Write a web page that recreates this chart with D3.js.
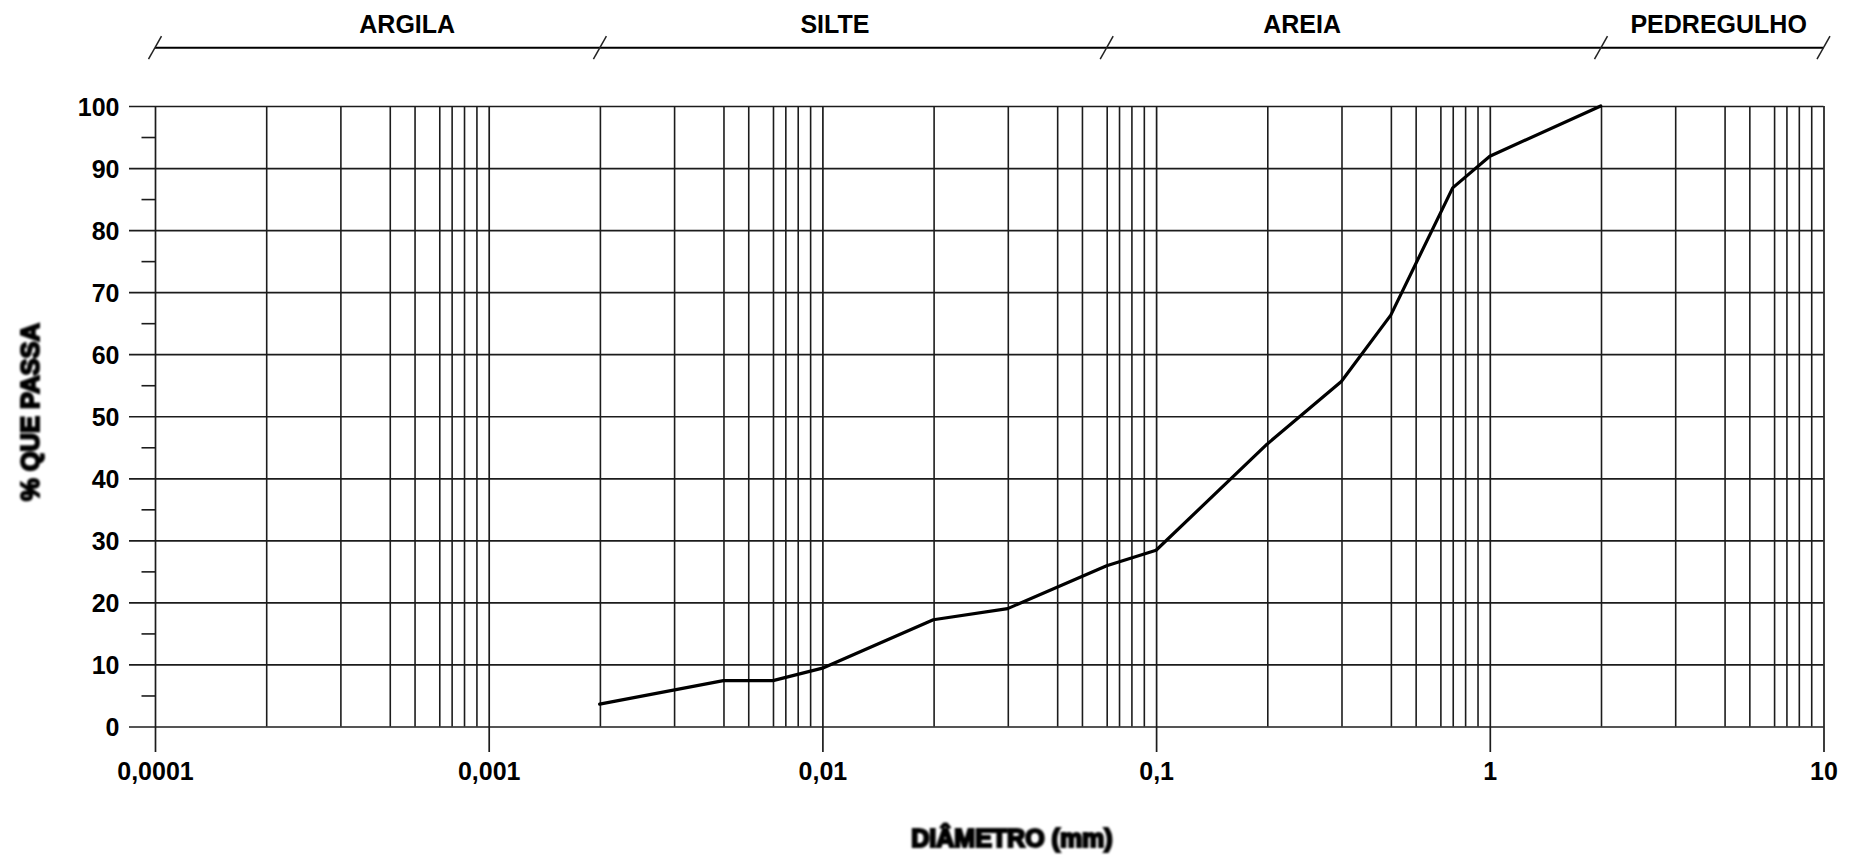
<!DOCTYPE html>
<html>
<head>
<meta charset="utf-8">
<script src="https://cdn.jsdelivr.net/npm/d3@7"></script>
<style>
  html, body { margin: 0; padding: 0; background: #fff; }
  svg { display: block; }
  text { font-family: "Liberation Sans", Arial, sans-serif; font-weight: bold; fill: #000; }
</style>
</head>
<body>
<svg id="chart" width="1859" height="858"></svg>
<script>
// Granulometric curve: diameter (mm) vs. percent passing
const diameters     = [0.00215, 0.00505, 0.00711, 0.01, 0.0215, 0.0359, 0.0711, 0.1, 0.215, 0.359, 0.505, 0.774, 1.0, 2.15];
const percentPassing = [3.6, 7.4, 7.4, 9.4, 17.2, 19.0, 25.9, 28.4, 45.5, 55.6, 66.3, 86.8, 91.9, 100];

// Axis ticks
const decadeTicks  = [0.0001, 0.001, 0.01, 0.1, 1, 10];
const decadeLabels = ["0,0001", "0,001", "0,01", "0,1", "1", "10"];
const gridMultipliers = [2.154, 3.594, 5.053, 5.995, 7.111, 7.743, 8.434, 9.188];
const percentTicks      = [0, 10, 20, 30, 40, 50, 60, 70, 80, 90, 100];
const percentMinorTicks = [5, 15, 25, 35, 45, 55, 65, 75, 85, 95];

// Soil fraction bands along the top
const bandNames      = ["ARGILA", "SILTE", "AREIA", "PEDREGULHO"];
const bandBoundaries = [0.0001, 0.002154, 0.07111, 2.154, 10];
const bandLabelAt    = [0.00057, 0.0109, 0.274, 4.85];

(function () {
  const svg = d3.select("#chart");
  const plotLeft = 155, plotRight = 1823.5, plotTop = 106, plotBottom = 726.5;
  const FONT = 25;

  const x = d3.scaleLog().domain([0.0001, 10]).range([plotLeft, plotRight]);
  const y = d3.scaleLinear().domain([0, 100]).range([plotBottom, plotTop]);

  // blur used for the heavy axis titles
  const defs = svg.append("defs");
  defs.append("filter").attr("id", "soft")
    .attr("x", "-5%").attr("y", "-20%").attr("width", "110%").attr("height", "140%")
    .append("feGaussianBlur").attr("stdDeviation", 0.9);

  const gridColor = "#1c1c1c";
  const fontStyle = g => g.selectAll("text")
    .style("font-family", "'Liberation Sans', Arial, sans-serif")
    .style("font-weight", "bold").attr("fill", "#000").attr("font-size", FONT);

  // minor vertical grid lines
  const minorValues = [];
  decadeTicks.slice(0, -1).forEach(d => gridMultipliers.forEach(m => minorValues.push(d * m)));

  svg.append("g")
    .attr("transform", `translate(0,${plotBottom})`)
    .call(d3.axisBottom(x).tickValues(minorValues).tickSize(-(plotBottom - plotTop)).tickFormat(""))
    .call(g => g.select(".domain").remove())
    .call(g => g.selectAll("line").attr("stroke", gridColor).attr("stroke-width", 1.6));

  // horizontal grid lines with major ticks and labels
  svg.append("g")
    .attr("transform", `translate(129,0)`)
    .call(d3.axisLeft(y).tickValues(percentTicks).tickSize(-(plotRight - 129)).tickPadding(9.5)
          .tickFormat(d => String(d)))
    .call(g => g.select(".domain").remove())
    .call(g => g.selectAll("line").attr("stroke", gridColor).attr("stroke-width", 1.7))
    .call(fontStyle)
    .call(g => g.selectAll("text").attr("dy", "0.36em"));

  // minor y ticks
  svg.append("g")
    .attr("transform", `translate(${plotLeft},0)`)
    .call(d3.axisLeft(y).tickValues(percentMinorTicks).tickSize(13.5).tickFormat(""))
    .call(g => g.select(".domain").remove())
    .call(g => g.selectAll("line").attr("stroke", gridColor).attr("stroke-width", 1.6));

  // major vertical lines (decades) extending below the axis, with labels
  svg.append("g")
    .attr("transform", `translate(0,752)`)
    .call(d3.axisBottom(x).tickValues(decadeTicks).tickSize(-(752 - plotTop)).tickPadding(28)
          .tickFormat((d, i) => decadeLabels[i]))
    .call(g => g.select(".domain").remove())
    .call(g => g.selectAll("line").attr("stroke", gridColor).attr("stroke-width", 1.7))
    .call(fontStyle)
    .call(g => g.selectAll("text").attr("dy", 0));

  // the curve
  const pts = diameters.map((d, i) => [d, percentPassing[i]]);
  svg.append("path")
    .datum(pts)
    .attr("fill", "none")
    .attr("stroke", "#000")
    .attr("stroke-width", 3.2)
    .attr("stroke-linejoin", "round")
    .attr("stroke-linecap", "round")
    .attr("d", d3.line().x(p => x(p[0])).y(p => y(p[1])));

  // top band bracket
  const bandY = 47.7;
  const band = svg.append("g");
  band.append("line")
    .attr("x1", x(bandBoundaries[0])).attr("x2", x(bandBoundaries[bandBoundaries.length - 1]))
    .attr("y1", bandY).attr("y2", bandY)
    .attr("stroke", "#000").attr("stroke-width", 2);
  band.selectAll("line.slash").data(bandBoundaries).join("line")
    .attr("class", "slash")
    .attr("x1", d => x(d) - 6.5).attr("y1", bandY + 11.5)
    .attr("x2", d => x(d) + 6.5).attr("y2", bandY - 11.5)
    .attr("stroke", "#222").attr("stroke-width", 1.5);
  band.selectAll("text").data(bandNames).join("text")
    .attr("x", (d, i) => x(bandLabelAt[i]))
    .attr("y", 32.5)
    .attr("text-anchor", "middle")
    .attr("font-size", FONT)
    .text(d => d);

  // axis titles
  svg.append("text")
    .attr("transform", "translate(39,412) rotate(-90)")
    .attr("text-anchor", "middle")
    .attr("font-size", 25.5)
    .attr("stroke", "#000").attr("stroke-width", 2)
    .attr("filter", "url(#soft)")
    .text("% QUE PASSA");

  svg.append("text")
    .attr("x", 1012).attr("y", 847)
    .attr("text-anchor", "middle")
    .attr("font-size", 25)
    .attr("stroke", "#000").attr("stroke-width", 2.2)
    .attr("filter", "url(#soft)")
    .text("DIÂMETRO (mm)");
})();
</script>
</body>
</html>
